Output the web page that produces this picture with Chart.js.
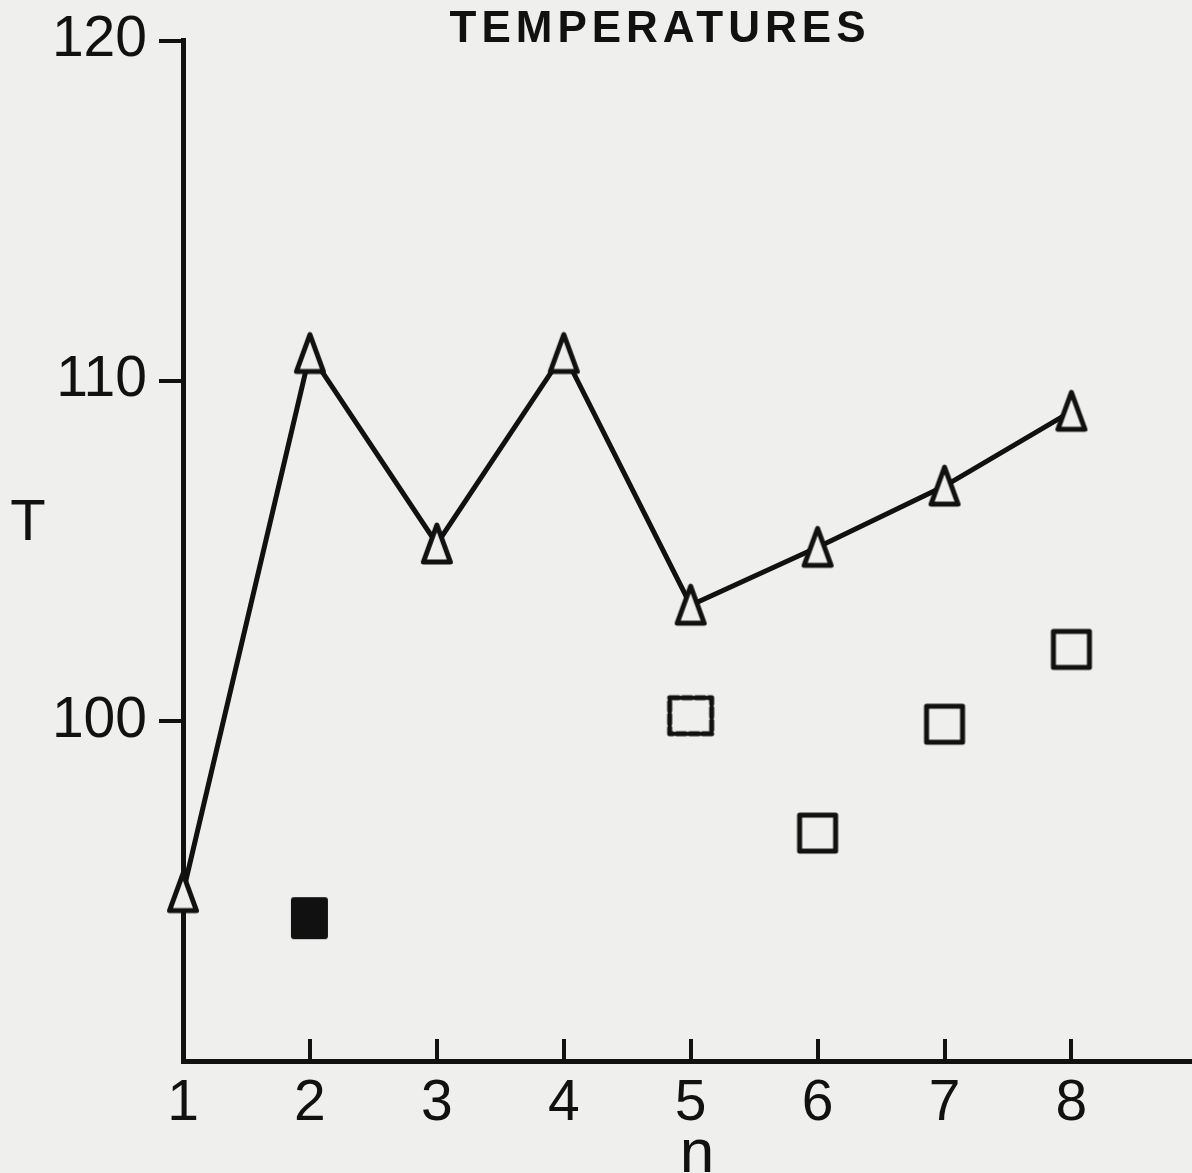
<!DOCTYPE html>
<html>
<head>
<meta charset="utf-8">
<script src="https://cdn.jsdelivr.net/npm/chart.js@4.4.1/dist/chart.umd.min.js"></script>
<style>
    html, body { margin: 0; padding: 0; background: #efefed; }
    #contenedor { width: 1192px; height: 1173px; }
</style>
</head>
<body>
<div id="contenedor"><canvas id="myChart" width="1192" height="1173"></canvas></div>
<script>
//Datos
const valoresN = [1, 2, 3, 4, 5, 6, 7, 8];
const temperaturasTriangulo = [94.95, 110.8, 105.2, 110.8, 103.4, 105.1, 106.9, 109.1];
const cuadradosN = [2, 5, 6, 7, 8];
const temperaturasCuadrado = [94.2, 100.15, 96.7, 99.9, 102.1];
const tipoCuadrado = ['lleno', 'discontinuo', 'vacio', 'vacio', 'vacio'];
const ticksX = [1, 2, 3, 4, 5, 6, 7, 8];
const ticksY = [100, 110, 120];

const FONDO = '#efefed';
const TINTA = '#111111';
const FUENTE = "'Liberation Sans', Arial, sans-serif";


//---------------------------------MARCADORES---------------------------------
function crearTriangulo(){
    let c = document.createElement('canvas');
    c.width = 38;
    c.height = 46;
    let ctx = c.getContext('2d');
    ctx.lineWidth = 5;
    ctx.lineJoin = 'round';
    ctx.beginPath();
    ctx.moveTo(19, 4);
    ctx.lineTo(32.5, 41);
    ctx.lineTo(5.5, 41);
    ctx.closePath();
    ctx.fillStyle = FONDO;
    ctx.fill();
    ctx.strokeStyle = TINTA;
    ctx.stroke();
    return c;
}

function crearCuadrado(tipo){
    let c = document.createElement('canvas');
    c.width = 50;
    c.height = 46;
    let ctx = c.getContext('2d');
    ctx.strokeStyle = TINTA;
    ctx.fillStyle = TINTA;
    ctx.lineWidth = 5;
    ctx.lineJoin = 'round';
    if(tipo === 'lleno'){
        ctx.beginPath();
        ctx.roundRect(6, 2, 37, 42, 3);
        ctx.fill();
    } else if(tipo === 'discontinuo'){
        ctx.setLineDash([9, 4]);
        ctx.lineCap = 'round';
        ctx.strokeRect(4, 5, 42, 36);
    } else {
        ctx.fillStyle = FONDO;
        ctx.fillRect(7, 5, 36, 36);
        ctx.strokeRect(7, 5, 36, 36);
    }
    return c;
}

const imagenTriangulo = crearTriangulo();
const imagenesCuadrado = {
    lleno: crearCuadrado('lleno'),
    discontinuo: crearCuadrado('discontinuo'),
    vacio: crearCuadrado('vacio')
};


//---------------------------------TEXTOS SUELTOS---------------------------------
const textosExtra = {
    id: 'textosExtra',
    afterDraw(chart){
        let ctx = chart.ctx;
        ctx.save();
        ctx.fillStyle = TINTA;
        ctx.textAlign = 'center';
        ctx.textBaseline = 'alphabetic';

        ctx.font = 'bold 44px ' + FUENTE;
        ctx.letterSpacing = '5px';
        ctx.fillText('TEMPERATURES', 660, 42);
        ctx.letterSpacing = '0px';

        ctx.font = '58px ' + FUENTE;
        ctx.fillText('T', 28, 540);

        ctx.font = '62px ' + FUENTE;
        ctx.fillText('n', 697, 1172);
        ctx.restore();
    }
};


//---------------------------------GRAFICA---------------------------------
let data = {
    datasets: [{
        label: 'triangulos',
        data: valoresN.map((n, i) => ({x: n, y: temperaturasTriangulo[i]})),
        showLine: true,
        borderColor: TINTA,
        borderWidth: 5,
        pointStyle: imagenTriangulo,
        clip: false
    }, {
        label: 'cuadrados',
        data: cuadradosN.map((n, i) => ({x: n, y: temperaturasCuadrado[i]})),
        showLine: false,
        pointStyle: tipoCuadrado.map(t => imagenesCuadrado[t]),
        clip: false
    }]
};

let config = {
    type: 'scatter',
    data: data,
    options: {
        responsive: false,
        animation: false,
        devicePixelRatio: 1,
        layout: {
            autoPadding: false,
            padding: {top: 38, left: 0, right: 0, bottom: 0}
        },
        plugins: {
            legend: {display: false},
            tooltip: {enabled: false},
            title: {display: false}
        },
        scales: {
            x: {
                type: 'linear',
                min: 1,
                max: 8.95,
                afterBuildTicks: function(escala){
                    escala.ticks = ticksX.map(v => ({value: v}));
                },
                afterFit: function(escala){
                    escala.height = 112;
                },
                border: {color: TINTA, width: 5},
                grid: {drawOnChartArea: false, color: TINTA, lineWidth: 4, tickLength: -22},
                ticks: {
                    color: TINTA,
                    font: {family: FUENTE, size: 57},
                    padding: 31,
                    maxRotation: 0,
                    autoSkip: false
                }
            },
            y: {
                type: 'linear',
                min: 90,
                max: 120,
                afterBuildTicks: function(escala){
                    escala.ticks = ticksY.map(v => ({value: v}));
                },
                afterFit: function(escala){
                    escala.width = 183;
                },
                border: {color: TINTA, width: 5},
                grid: {drawOnChartArea: false, color: TINTA, lineWidth: 4, tickLength: 24},
                ticks: {
                    color: TINTA,
                    font: {family: FUENTE, size: 57, lineHeight: 1},
                    padding: 12
                }
            }
        }
    },
    plugins: [textosExtra]
};

const myChart = new Chart(document.getElementById('myChart'), config);
</script>
</body>
</html>
